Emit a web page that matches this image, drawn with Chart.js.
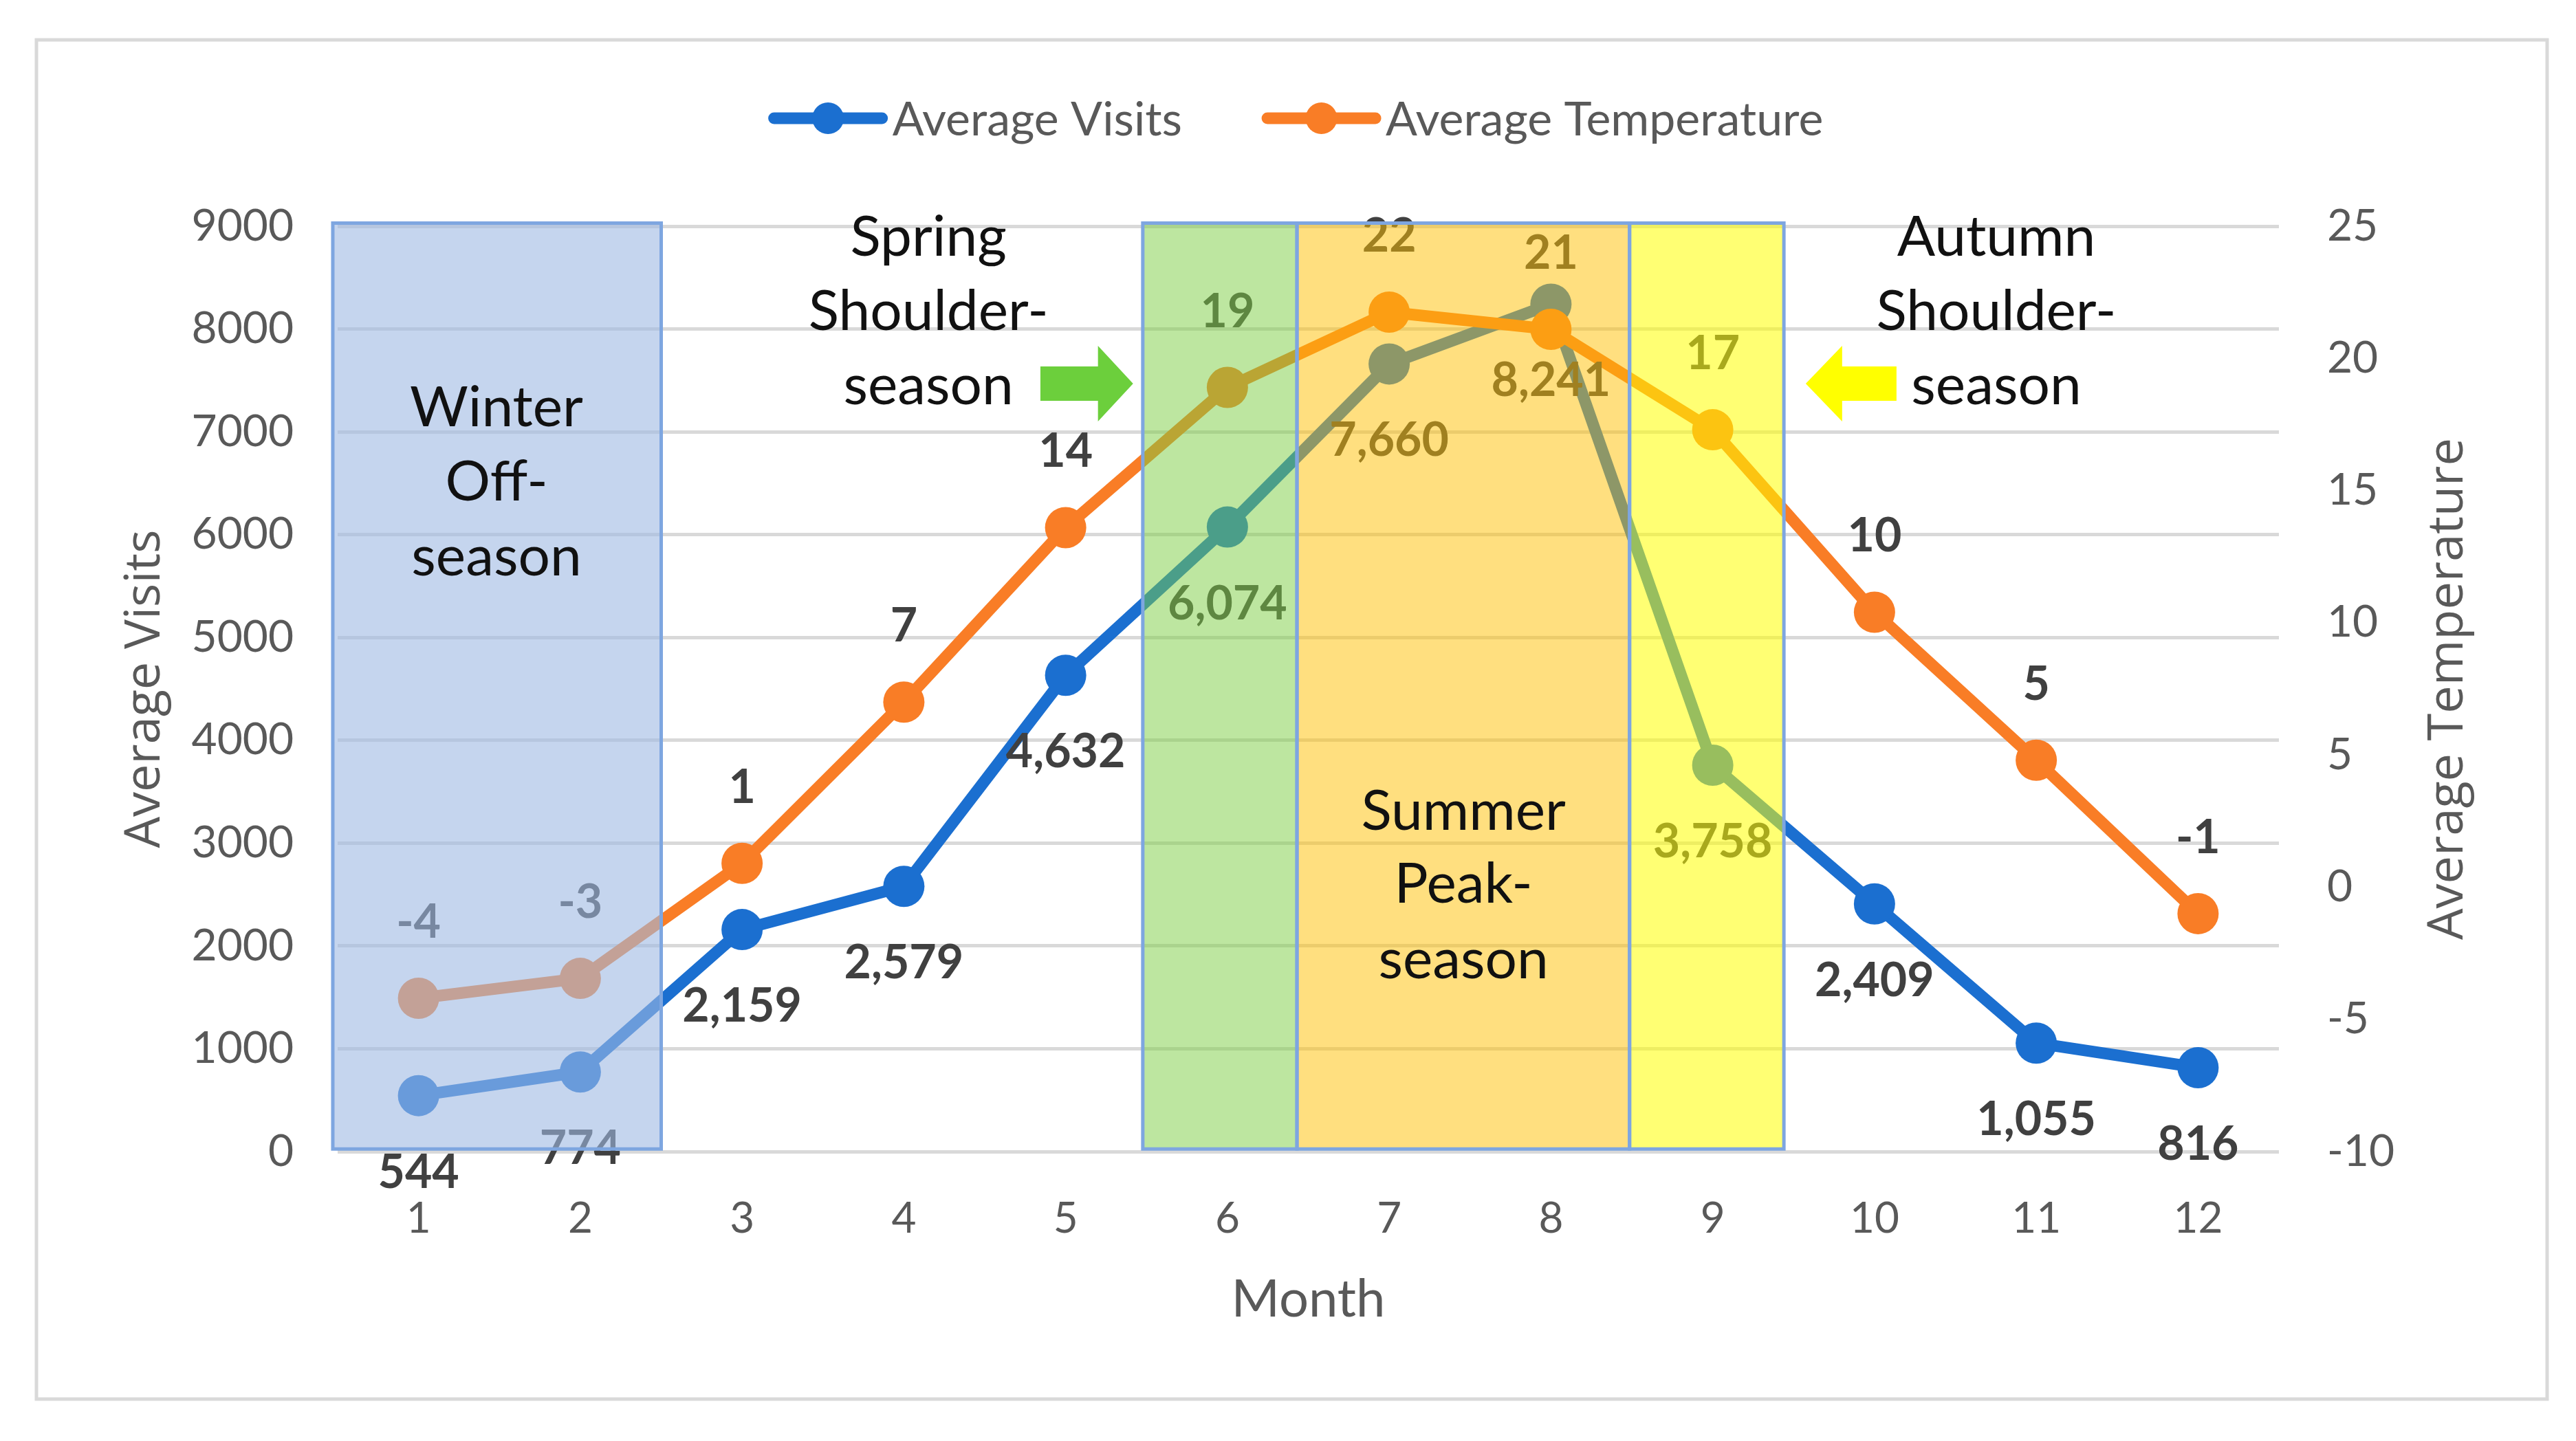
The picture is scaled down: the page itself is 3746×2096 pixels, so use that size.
<!DOCTYPE html>
<html>
<head>
<meta charset="utf-8">
<script src="https://cdn.jsdelivr.net/npm/chart.js@4.4.1/dist/chart.umd.min.js"></script>
<style>
html,body{margin:0;padding:0;background:#fff;overflow:hidden}
canvas{display:block}
</style>
</head>
<body>
<canvas id="c" width="3746" height="2096"></canvas>
<script>
// ---------- data ----------
const months = ['1','2','3','4','5','6','7','8','9','10','11','12'];
const avgVisits = [544, 774, 2159, 2579, 4632, 6074, 7660, 8241, 3758, 2409, 1055, 816];
const avgTemperature = [-4.2, -3.45, 0.9, 7.0, 13.6, 18.9, 21.75, 21.1, 17.3, 10.4, 4.8, -1.0];
const visitTicks = [0, 1000, 2000, 3000, 4000, 5000, 6000, 7000, 8000, 9000];
const temperatureTicks = [-10, -5, 0, 5, 10, 15, 20, 25];
const seriesNames = ['Average Visits', 'Average Temperature'];
const axisTitles = { x: 'Month', y: 'Average Visits', y1: 'Average Temperature' };

// ---------- annotation layout (category index / axis units) ----------
const seasonBands = [
  { from: -0.53, to: 1.5,   fill: 'rgba(158,185,227,0.6)' },
  { from: 4.477, to: 5.43,  fill: 'rgba(123,205,65,0.5)' },
  { from: 5.43,  to: 7.486, fill: 'rgba(255,192,0,0.5)' },
  { from: 7.486, to: 8.44,  fill: 'rgba(255,255,0,0.55)' }
];
const seasonNotes = [
  { lines: ['Winter', 'Off-', 'season'],      x: 0.482, y: [7054, 6332, 5603] },
  { lines: ['Spring', 'Shoulder-', 'season'], x: 3.152, y: [8713, 7990, 7268] },
  { lines: ['Summer', 'Peak-', 'season'],     x: 6.459, y: [3129, 2420, 1685] },
  { lines: ['Autumn', 'Shoulder-', 'season'], x: 9.753, y: [8713, 7990, 7268] }
];
const seasonArrows = [
  { tail: 3.844, base: 4.2, tip: 4.417, y: 7469, color: '#6ccf3c' },
  { tail: 9.136, base: 8.8, tip: 8.575, y: 7469, color: '#ffff00' }
];

const FONT = 'Lato, "Noto Sans", sans-serif';
const TITLE_FONT = '"Open Sans", "Noto Sans", sans-serif';
const VISIT_COLOR = '#1b6fd0';
const TEMP_COLOR = '#f97d26';
const TICK_COLOR = '#595959';
const LABEL_COLOR = '#404040';

const decorPlugin = {
  id: 'decor',
  beforeDraw(chart) {
    const ctx = chart.ctx;
    ctx.save();
    ctx.fillStyle = '#ffffff';
    ctx.fillRect(0, 0, chart.width, chart.height);
    ctx.strokeStyle = '#d9d9d9';
    ctx.lineWidth = 5;
    ctx.strokeRect(53, 58, 3651, 1977);
    ctx.restore();
  },
  afterDatasetsDraw(chart) {
    const ctx = chart.ctx;
    const xs = chart.scales.x, ys = chart.scales.y;
    ctx.save();
    // data labels
    ctx.font = `bold 68px ${FONT}`;
    ctx.fillStyle = LABEL_COLOR;
    ctx.textAlign = 'center';
    ctx.textBaseline = 'middle';
    const mV = chart.getDatasetMeta(0);
    const mT = chart.getDatasetMeta(1);
    mV.data.forEach((p, i) => ctx.fillText(avgVisits[i].toLocaleString('en-US'), p.x, p.y + 112));
    mT.data.forEach((p, i) => ctx.fillText(String(Math.round(avgTemperature[i])), p.x, p.y - 110));
    // season bands
    const top = ys.getPixelForValue(9030);
    const bottom = ys.getPixelForValue(25);
    seasonBands.forEach(b => {
      const l = xs.getPixelForValue(b.from), r = xs.getPixelForValue(b.to);
      ctx.fillStyle = b.fill;
      ctx.fillRect(l, top, r - l, bottom - top);
    });
    ctx.strokeStyle = 'rgb(126,166,224)';
    ctx.lineWidth = 5;
    seasonBands.forEach(b => {
      const l = xs.getPixelForValue(b.from), r = xs.getPixelForValue(b.to);
      ctx.strokeRect(l, top, r - l, bottom - top);
    });
    // arrows
    seasonArrows.forEach(a => {
      const t = xs.getPixelForValue(a.tail), b = xs.getPixelForValue(a.base), p = xs.getPixelForValue(a.tip);
      const y = ys.getPixelForValue(a.y);
      ctx.fillStyle = a.color;
      ctx.beginPath();
      ctx.moveTo(t, y - 25); ctx.lineTo(b, y - 25); ctx.lineTo(b, y - 55);
      ctx.lineTo(p, y); ctx.lineTo(b, y + 55); ctx.lineTo(b, y + 25); ctx.lineTo(t, y + 25);
      ctx.closePath();
      ctx.fill();
    });
    // season notes
    ctx.font = `82px ${FONT}`;
    ctx.fillStyle = '#111111';
    ctx.textAlign = 'center';
    ctx.textBaseline = 'alphabetic';
    seasonNotes.forEach(n => {
      const x = xs.getPixelForValue(n.x);
      n.lines.forEach((s, k) => ctx.fillText(s, x, ys.getPixelForValue(n.y[k])));
    });
    ctx.restore();
  },
  afterDraw(chart) {
    const ctx = chart.ctx;
    const area = chart.chartArea;
    ctx.save();
    // legend
    ctx.font = `68px ${FONT}`;
    const items = [{ name: seriesNames[0], color: VISIT_COLOR }, { name: seriesNames[1], color: TEMP_COLOR }];
    const markerW = 175, gapText = 6, gapItem = 115;
    const widths = items.map(it => markerW + gapText + ctx.measureText(it.name).width);
    const total = widths[0] + gapItem + widths[1];
    let x = 1884 - total / 2;
    const ly = 172;
    items.forEach((it, i) => {
      ctx.strokeStyle = it.color; ctx.lineWidth = 17; ctx.lineCap = 'round';
      ctx.beginPath(); ctx.moveTo(x + 9, ly); ctx.lineTo(x + markerW - 9, ly); ctx.stroke();
      ctx.fillStyle = it.color;
      ctx.beginPath(); ctx.arc(x + markerW / 2, ly, 23, 0, Math.PI * 2); ctx.fill();
      ctx.fillStyle = TICK_COLOR; ctx.textAlign = 'left'; ctx.textBaseline = 'middle';
      ctx.fillText(it.name, x + markerW + gapText, ly + 3);
      x += widths[i] + gapItem;
    });
    // axis titles
    ctx.fillStyle = TICK_COLOR;
    ctx.font = `72px ${TITLE_FONT}`;
    ctx.textAlign = 'center';
    ctx.textBaseline = 'alphabetic';
    const cy = (area.top + area.bottom) / 2;
    ctx.save(); ctx.translate(232, cy); ctx.rotate(-Math.PI / 2); ctx.fillText(axisTitles.y, 0, 0); ctx.restore();
    ctx.save(); ctx.translate(3581, cy); ctx.rotate(-Math.PI / 2); ctx.fillText(axisTitles.y1, 0, 0); ctx.restore();
    ctx.font = `76px ${FONT}`;
    ctx.textBaseline = 'middle';
    ctx.fillText(axisTitles.x, (area.left + area.right) / 2, 1890);
    ctx.restore();
  }
};

function build() {
  new Chart(document.getElementById('c'), {
    type: 'line',
    data: {
      labels: months,
      datasets: [
        {
          label: seriesNames[0], data: avgVisits, yAxisID: 'y', order: 1,
          borderColor: VISIT_COLOR, backgroundColor: VISIT_COLOR,
          borderWidth: 17, borderJoinStyle: 'round', tension: 0,
          pointRadius: 30, pointHoverRadius: 30, pointBorderWidth: 0,
          pointBackgroundColor: VISIT_COLOR
        },
        {
          label: seriesNames[1], data: avgTemperature, yAxisID: 'y1', order: 0,
          borderColor: TEMP_COLOR, backgroundColor: TEMP_COLOR,
          borderWidth: 17, borderJoinStyle: 'round', tension: 0,
          pointRadius: 30, pointHoverRadius: 30, pointBorderWidth: 0,
          pointBackgroundColor: TEMP_COLOR
        }
      ]
    },
    options: {
      responsive: false,
      devicePixelRatio: 1,
      animation: false,
      events: [],
      layout: { padding: { left: 60, right: 50, top: 329, bottom: 100 } },
      plugins: { legend: { display: false }, tooltip: { enabled: false }, title: { display: false } },
      scales: {
        x: {
          type: 'category', offset: true,
          grid: { display: false }, border: { display: false },
          ticks: { font: { family: FONT, size: 62 }, color: TICK_COLOR, padding: 53, maxRotation: 0, autoSkip: false },
          afterFit: s => { s.height = 321; }
        },
        y: {
          position: 'left', min: 0, max: 9000,
          grid: { color: '#d9d9d9', lineWidth: 5, drawTicks: false },
          border: { display: false },
          afterBuildTicks: s => { s.ticks = visitTicks.map(v => ({ value: v })); },
          ticks: { font: { family: FONT, size: 64 }, color: TICK_COLOR, padding: 64, callback: v => String(v) },
          afterFit: s => { s.width = 431; }
        },
        y1: {
          position: 'right', min: -10, max: 25,
          grid: { display: false, drawTicks: false },
          border: { display: false },
          afterBuildTicks: s => { s.ticks = temperatureTicks.map(v => ({ value: v })); },
          ticks: { font: { family: FONT, size: 64 }, color: TICK_COLOR, padding: 70, callback: v => String(v) },
          afterFit: s => { s.width = 382; }
        }
      }
    },
    plugins: [decorPlugin]
  });
}
if (document.fonts && document.fonts.load) {
  Promise.all([document.fonts.load('64px Lato'), document.fonts.load('bold 64px Lato'), document.fonts.load('72px "Open Sans"')])
    .then(build, build);
} else { build(); }
</script>
</body>
</html>
